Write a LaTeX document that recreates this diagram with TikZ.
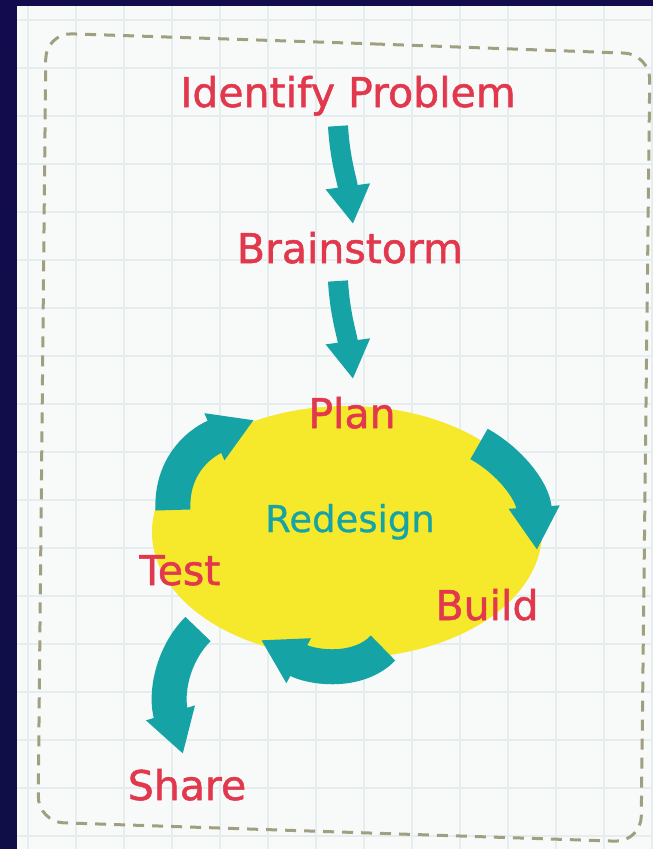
\documentclass[tikz,border=0pt]{standalone}
\usepackage{fontspec}
\setmainfont{DejaVu Sans}
\newfontfamily\lblfont[FakeBold=1.3]{DejaVu Sans}
\newfontfamily\midfont[FakeBold=0.6]{DejaVu Sans}
\usetikzlibrary{arrows.meta,shapes.geometric}
\definecolor{txtred}{RGB}{226,56,78}
\definecolor{tealc}{RGB}{22,163,165}
\definecolor{yel}{RGB}{246,232,42}
\definecolor{paper}{RGB}{248,250,250}
\definecolor{gridc}{RGB}{229,237,239}
\definecolor{dashc}{RGB}{160,160,128}
\definecolor{spaceA}{RGB}{18,12,78}
\definecolor{spaceB}{RGB}{96,48,180}
\definecolor{spaceC}{RGB}{16,14,70}
\begin{document}
\begin{tikzpicture}[x=1pt,y=-1pt,
  lbl/.style={text=txtred,inner sep=0pt,anchor=base,font=\lblfont\fontsize{41}{46}\selectfont},
  centrelbl/.style={text=tealc,inner sep=0pt,anchor=base,font=\midfont\fontsize{37}{40}\selectfont},
  thinarrow/.style={tealc,line width=20pt,-{Triangle[width=42pt,length=38pt]}},
  fatarrow/.style={tealc,line width=35pt,-{Triangle[width=48pt,length=43pt]}},
  gridline/.style={gridc,line width=2pt},
  borderline/.style={dashc,line width=3pt,dash pattern=on 11pt off 8pt,rounded corners=26pt}
]
\useasboundingbox (0,0) rectangle (653,849);
% space background
\shade[top color=spaceA,middle color=spaceB,bottom color=spaceC] (0,0) rectangle (653,849);
% paper
\fill[paper] (17,6) rectangle (653,849);
\begin{scope}
\clip (17,6) rectangle (653,849);
\foreach \gx in {28,76,...,652} \draw[gridline] (\gx,6) -- (\gx,849);
\foreach \gy in {20,68,...,848} \draw[gridline] (17,\gy) -- (653,\gy);
\draw[borderline] (348,43) -- (650,54) -- (641,842) -- (38,822) -- (46,33) -- cycle;
\end{scope}
% cycle ellipse
\node[ellipse,fill=yel,minimum width=390pt,minimum height=252pt,inner sep=0pt] (cyc) at (347,532) {};
% labels
\node[lbl] (idp) at (348,107) {Identify Problem};
\node[lbl] (brain) at (350,263) {Brainstorm};
\node[lbl] (plan) at (352,428) {Plan};
\node[centrelbl] (redesign) at (350,532) {Redesign};
\node[lbl] (test) at (180,585) {Test};
\node[lbl] (build) at (487,620) {Build};
\node[lbl] (share) at (187,800) {Share};
% arrow end points
\coordinate (a1s) at (338,126); \coordinate (a1e) at (353,224);
\coordinate (a2s) at (338,281); \coordinate (a2e) at (353,379);
\coordinate (aAs) at (173,510); \coordinate (aAe) at (254,420);
\coordinate (aBs) at (479,444); \coordinate (aBe) at (537,550);
\coordinate (aCs) at (383,648); \coordinate (aCe) at (261,640);
\coordinate (aDs) at (198,629); \coordinate (aDe) at (183,754);
% arrows
\draw[thinarrow] (a1s) .. controls (340,160) and (347,180) .. (a1e);
\draw[thinarrow] (a2s) .. controls (340,315) and (347,335) .. (a2e);
\draw[fatarrow] (aAs) .. controls (171,470) and (195,445) .. (aAe);
\draw[fatarrow] (aBs) .. controls (508,460) and (533,490) .. (aBe);
\draw[fatarrow] (aCs) .. controls (358,674) and (312,668) .. (aCe);
\draw[fatarrow] (aDs) .. controls (172,655) and (165,695) .. (aDe);
\end{tikzpicture}
\end{document}
